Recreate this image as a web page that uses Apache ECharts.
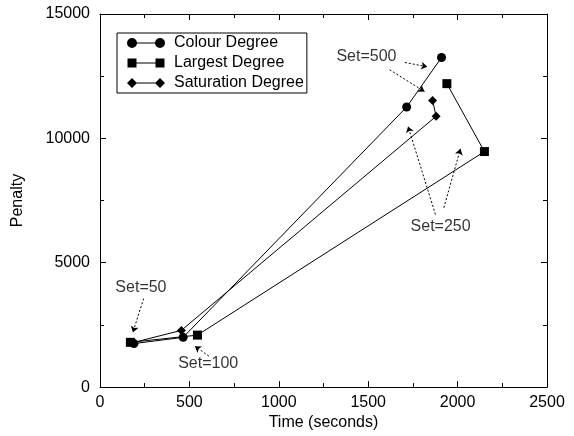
<!DOCTYPE html>
<html>
<head>
<meta charset="utf-8">
<script src="https://cdn.jsdelivr.net/npm/echarts@6/dist/echarts.min.js"></script>
<style>
  html, body { margin: 0; padding: 0; background: #fff; }
  #chart { width: 574px; height: 436px; }
</style>
</head>
<body>
<div id="chart"></div>
<script>
// series values: [time (seconds), penalty]
var colourDegree = [[190, 1750], [465, 2000], [1715, 11260], [1910, 13250]];
var largestDegree = [[170, 1800], [545, 2090], [2150, 9470], [1940, 12200]];
var saturationDegree = [[180, 1780], [455, 2280], [1880, 10890], [1860, 11520]];

var seriesNames = ['Colour Degree', 'Largest Degree', 'Saturation Degree'];

// annotations: text positions and arrows (in data units)
var noteTexts = [
    ['Set=500', 1490, 13300],
    ['Set=250', 1905, 6450],
    ['Set=50', 229, 4000],
    ['Set=100', 605, 950]
];
var noteArrows = [
    [[1705, 13050], [1830, 12880]],
    [[1620, 12760], [1815, 11880]],
    [[1876, 6940], [1723, 10480]],
    [[1923, 7210], [2016, 9580]],
    [[244, 3560], [184, 2200]],
    [[609, 1245], [531, 1647]]
];

var xTicks = { min: 0, max: 2500, interval: 500 };
var yTicks = { min: 0, max: 15000, interval: 5000 };

var font = 'Liberation Sans, Arial, sans-serif';

/* 图例图标: 两端带符号的线段 */
var legendIcons = {
    circle: 'path://M0,5 A5,5 0 1,1 10,5 A5,5 0 1,1 0,5 Z M5,4.5 L33,4.5 L33,5.5 L5,5.5 Z M28,5 A5,5 0 1,1 38,5 A5,5 0 1,1 28,5 Z M42,5 L42,5.01',
    rect: 'path://M0.5,0.5 L9.5,0.5 L9.5,9.5 L0.5,9.5 Z M5,4.5 L33,4.5 L33,5.5 L5,5.5 Z M28.5,0.5 L37.5,0.5 L37.5,9.5 L28.5,9.5 Z M0,0 L0,0.01 M42,10 L42,9.99',
    diamond: 'path://M0,5 L5,0 L10,5 L5,10 Z M5,4.5 L33,4.5 L33,5.5 L5,5.5 Z M28,5 L33,0 L38,5 L33,10 Z M42,5 L42,5.01'
};

function axisCommon(show) {
    return {
        type: 'value',
        axisLine: { show: true, onZero: false, lineStyle: { color: '#000', width: 1 } },
        axisTick: { show: true, inside: true, length: 6, lineStyle: { color: '#000' } },
        minorTick: { show: true, splitNumber: 2, length: 4, lineStyle: { color: '#000' } },
        splitLine: { show: false },
        axisLabel: {
            show: show, color: '#000', fontFamily: font, fontSize: 16,
            formatter: function (v) { return String(v); }
        }
    };
}

function xAxis(position, show) {
    var a = axisCommon(show);
    a.position = position;
    a.min = xTicks.min; a.max = xTicks.max; a.interval = xTicks.interval;
    a.axisLabel.margin = 7;
    if (show) {
        a.name = 'Time (seconds)';
        a.nameLocation = 'middle';
        a.nameGap = 26;
        a.nameTextStyle = { color: '#000', fontFamily: font, fontSize: 16 };
    }
    return a;
}

function yAxis(position, show) {
    var a = axisCommon(show);
    a.position = position;
    a.min = yTicks.min; a.max = yTicks.max; a.interval = yTicks.interval;
    a.axisLabel.margin = 10;
    if (show) {
        a.name = 'Penalty';
        a.nameLocation = 'middle';
        a.nameGap = 74;
        a.nameTextStyle = { color: '#000', fontFamily: font, fontSize: 16 };
    }
    return a;
}

function lineSeries(name, data, symbol) {
    return {
        name: name,
        type: 'line',
        data: data,
        symbol: symbol,
        symbolSize: 9,
        color: '#000',
        lineStyle: { color: '#000', width: 1 },
        itemStyle: { color: '#000', borderWidth: 0 },
        silent: true,
        z: 3
    };
}

var option = {
    animation: false,
    backgroundColor: '#fff',
    textStyle: { fontFamily: font },
    grid: { left: 100, right: 27, top: 14, bottom: 47 },
    legend: {
        left: 117,
        top: 33,
        orient: 'vertical',
        data: [
            { name: seriesNames[0], icon: legendIcons.circle },
            { name: seriesNames[1], icon: legendIcons.rect },
            { name: seriesNames[2], icon: legendIcons.diamond }
        ],
        itemWidth: 42,
        itemHeight: 10,
        itemGap: 4,
        padding: [2, 3, 2, 10],
        borderColor: '#000',
        borderWidth: 1,
        borderRadius: 0,
        backgroundColor: '#fff',
        itemStyle: { borderWidth: 0 },
        selectedMode: false,
        textStyle: { color: '#000', fontFamily: font, fontSize: 16 }
    },
    xAxis: [xAxis('bottom', true), xAxis('top', false)],
    yAxis: [yAxis('left', true), yAxis('right', false)],
    series: [
        lineSeries(seriesNames[0], colourDegree, 'circle'),
        lineSeries(seriesNames[1], largestDegree, 'rect'),
        lineSeries(seriesNames[2], saturationDegree, 'diamond'),
        {
            name: 'notes',
            type: 'scatter',
            symbolSize: 0,
            silent: true,
            data: noteTexts.map(function (n) {
                return { name: n[0], value: [n[1], n[2]] };
            }),
            label: {
                show: true,
                position: 'inside',
                formatter: '{b}',
                color: '#000',
                fontFamily: font,
                fontSize: 16
            },
            markLine: {
                silent: true,
                symbol: ['none', 'arrow'],
                symbolSize: 6,
                label: { show: false },
                lineStyle: { color: '#000', width: 1, type: [2, 2] },
                data: noteArrows.map(function (a) {
                    return [{ coord: a[0] }, { coord: a[1] }];
                })
            }
        }
    ]
};

var chart = echarts.init(document.getElementById('chart'), null, { renderer: 'canvas' });
chart.setOption(option);
</script>
</body>
</html>
